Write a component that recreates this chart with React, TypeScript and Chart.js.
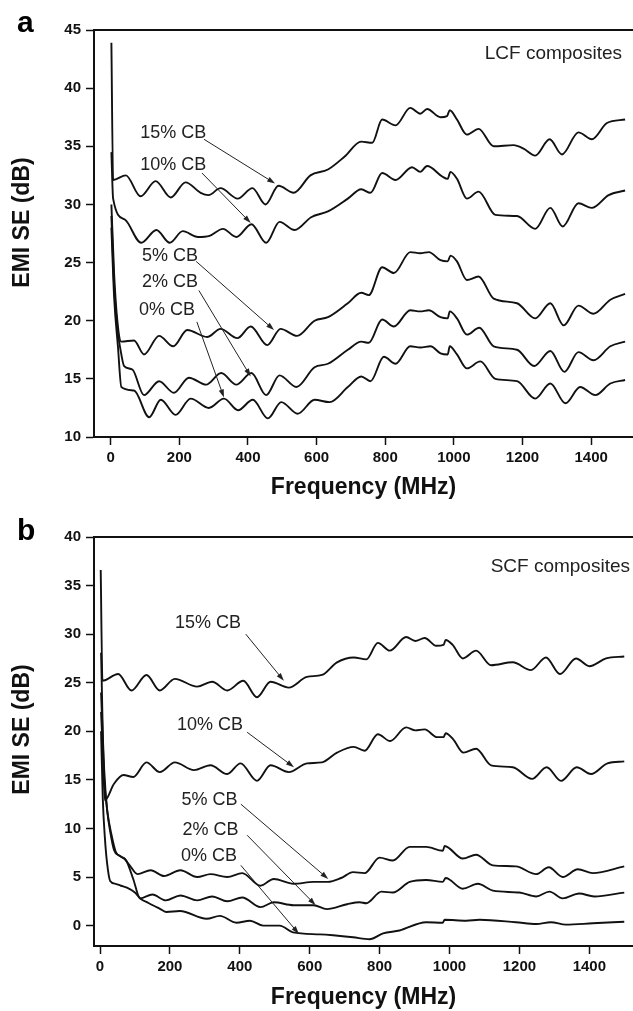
import React, { useEffect, useRef } from 'react';
import { Chart, registerables } from 'chart.js';

Chart.register(...registerables);

const FONT = '"Liberation Sans", Arial, Helvetica, sans-serif';

// ---------- Panel a : LCF composites ----------
const a15Freq = [2, 7, 44, 87, 131, 175, 218, 262, 285, 320, 370, 413, 451, 489, 533, 582, 633, 681, 730, 762, 791, 830, 873, 902, 922, 961, 980, 988, 1009, 1038, 1072, 1116, 1174, 1203, 1237, 1279, 1315, 1363, 1402, 1446, 1499];
const a15SE = [43.9, 32.1, 32.5, 30.7, 32.0, 30.6, 31.9, 31.0, 30.8, 31.4, 30.5, 31.4, 30.0, 31.6, 31.0, 32.5, 33.0, 34.1, 35.4, 35.3, 37.3, 36.8, 38.3, 37.8, 38.2, 37.5, 37.6, 38.1, 37.3, 36.0, 36.5, 35.0, 35.1, 34.8, 34.2, 35.6, 34.3, 36.2, 35.6, 37.0, 37.3];

const a10Freq = [2, 7, 41, 89, 133, 172, 210, 254, 288, 327, 366, 410, 453, 492, 536, 584, 633, 691, 730, 757, 791, 830, 878, 902, 922, 966, 982, 990, 1009, 1038, 1072, 1121, 1184, 1237, 1281, 1317, 1363, 1402, 1451, 1499];
const a10SE = [34.5, 30.5, 28.7, 26.7, 27.8, 26.7, 27.7, 27.2, 27.3, 27.9, 27.2, 28.3, 26.7, 28.5, 27.8, 28.9, 29.4, 30.5, 31.3, 31.0, 32.7, 32.1, 33.2, 32.8, 33.3, 32.4, 32.2, 32.8, 32.2, 30.5, 31.1, 29.1, 29.0, 27.9, 29.7, 28.1, 30.1, 29.7, 30.8, 31.2];

const a5Freq = [2, 10, 20, 31, 68, 97, 141, 182, 223, 281, 320, 369, 408, 456, 495, 543, 594, 633, 691, 730, 752, 791, 825, 873, 902, 927, 961, 982, 990, 1009, 1038, 1072, 1116, 1184, 1237, 1281, 1320, 1363, 1407, 1456, 1499];
const a5SE = [30.0, 24.0, 19.8, 18.2, 18.3, 17.1, 18.7, 17.8, 19.2, 18.6, 19.3, 18.5, 19.5, 17.9, 19.3, 18.7, 20.0, 20.3, 21.5, 22.4, 22.2, 24.6, 24.1, 25.9, 25.8, 25.9, 25.2, 25.1, 25.6, 25.1, 23.5, 23.8, 21.9, 21.5, 20.2, 21.5, 19.6, 21.3, 20.6, 21.8, 22.3];

const a2Freq = [2, 10, 20, 28, 39, 63, 97, 141, 184, 228, 278, 322, 366, 410, 453, 492, 541, 594, 633, 691, 730, 752, 791, 825, 873, 902, 927, 961, 982, 988, 1009, 1038, 1074, 1116, 1184, 1234, 1281, 1322, 1363, 1407, 1456, 1499];
const a2SE = [29.0, 23.0, 19.2, 17.6, 16.1, 15.8, 13.6, 14.8, 13.8, 15.1, 14.5, 15.5, 14.5, 15.5, 13.6, 15.3, 14.3, 16.0, 16.3, 17.5, 18.2, 18.1, 20.1, 19.5, 20.9, 20.8, 20.9, 20.3, 20.2, 20.8, 20.2, 18.8, 19.4, 17.8, 17.5, 16.1, 17.4, 15.6, 17.3, 16.6, 17.8, 18.2];

const a0Freq = [2, 10, 21, 31, 68, 112, 146, 189, 233, 286, 330, 371, 414, 458, 497, 545, 594, 638, 691, 730, 757, 796, 830, 873, 902, 932, 961, 982, 988, 1009, 1038, 1077, 1121, 1184, 1237, 1281, 1325, 1368, 1412, 1456, 1499];
const a0SE = [28.0, 22.0, 17.8, 14.3, 14.0, 11.7, 13.2, 11.9, 13.3, 12.5, 13.3, 12.3, 13.2, 11.6, 13.0, 12.0, 13.2, 13.0, 14.3, 15.2, 14.8, 16.9, 16.3, 17.8, 17.7, 17.8, 17.2, 17.1, 17.8, 17.1, 15.9, 16.5, 15.0, 14.8, 13.3, 14.6, 12.9, 14.3, 13.6, 14.6, 14.9];

// ---------- Panel b : SCF composites ----------
const b15Freq = [2, 7, 52, 90, 133, 171, 214, 278, 321, 364, 410, 449, 488, 540, 592, 635, 678, 726, 762, 795, 829, 876, 902, 929, 962, 983, 989, 1009, 1038, 1076, 1119, 1181, 1233, 1276, 1316, 1362, 1400, 1448, 1500];
const b15SE = [36.6, 25.2, 25.9, 24.2, 25.8, 24.2, 25.4, 24.6, 25.1, 24.2, 25.2, 23.5, 25.1, 24.5, 25.6, 25.8, 27.1, 27.6, 27.4, 29.1, 28.3, 29.7, 29.3, 29.6, 28.8, 28.9, 29.4, 28.9, 27.5, 28.3, 26.8, 27.1, 26.3, 27.6, 25.9, 27.5, 26.7, 27.5, 27.7];

const b10Freq = [3, 14, 40, 67, 95, 133, 171, 214, 269, 316, 364, 402, 449, 488, 540, 592, 635, 678, 726, 757, 795, 830, 876, 902, 929, 964, 983, 989, 1010, 1040, 1076, 1119, 1181, 1236, 1278, 1319, 1364, 1405, 1452, 1500];
const b10SE = [28.1, 12.9, 14.6, 15.5, 15.3, 16.8, 15.8, 16.8, 16.0, 16.5, 15.6, 16.7, 14.9, 16.5, 15.8, 16.7, 16.8, 17.8, 18.4, 18.0, 19.7, 19.0, 20.4, 20.1, 20.2, 19.4, 19.4, 19.8, 19.2, 17.8, 18.2, 16.5, 16.3, 15.1, 16.3, 14.9, 16.3, 15.6, 16.7, 16.9];

const b5Freq = [3, 12, 20, 30, 40, 55, 69, 85, 107, 145, 183, 230, 278, 316, 364, 407, 459, 497, 554, 611, 652, 690, 724, 757, 800, 838, 886, 933, 981, 986, 1038, 1076, 1124, 1190, 1248, 1284, 1324, 1367, 1410, 1500];
const b5SE = [24.0, 16.0, 12.0, 9.5, 7.8, 7.2, 6.9, 6.2, 5.3, 5.7, 5.1, 5.7, 5.0, 5.3, 5.0, 5.4, 4.1, 4.8, 4.3, 4.5, 4.5, 4.9, 5.5, 5.4, 7.0, 6.7, 8.1, 8.1, 7.7, 8.2, 6.9, 7.3, 6.2, 6.1, 5.3, 6.0, 5.0, 5.8, 5.4, 6.1];

const b2Freq = [3, 12, 22, 32, 45, 60, 75, 95, 115, 150, 188, 230, 278, 321, 364, 407, 459, 497, 554, 611, 649, 707, 743, 762, 805, 838, 886, 933, 981, 989, 1038, 1081, 1124, 1200, 1248, 1286, 1324, 1371, 1414, 1500];
const b2SE = [22.0, 15.0, 11.5, 9.5, 7.6, 7.1, 6.7, 4.8, 2.8, 3.2, 2.6, 3.1, 2.6, 3.0, 2.5, 2.9, 1.9, 2.4, 2.1, 2.1, 1.7, 2.2, 2.4, 2.3, 3.5, 3.4, 4.5, 4.7, 4.5, 4.9, 3.8, 4.3, 3.6, 3.4, 3.0, 3.5, 2.8, 3.3, 3.0, 3.4];

const b0Freq = [3, 8, 14, 20, 29, 45, 60, 77, 100, 115, 140, 173, 190, 229, 305, 343, 390, 429, 467, 514, 552, 629, 667, 724, 771, 810, 857, 933, 981, 986, 1048, 1086, 1190, 1248, 1290, 1333, 1410, 1500];
const b0SE = [20.0, 13.0, 9.0, 6.5, 4.6, 4.3, 4.1, 3.9, 3.4, 2.8, 2.3, 1.7, 1.4, 1.5, 0.7, 1.0, 0.3, 0.5, 0.0, 0.0, -0.7, -0.9, -1.0, -1.2, -1.4, -0.8, -0.5, 0.35, 0.3, 0.6, 0.5, 0.6, 0.35, 0.17, 0.35, 0.1, 0.24, 0.4];

// ---------- Ticks & labels ----------
const xTickValues = [0, 200, 400, 600, 800, 1000, 1200, 1400];
const yTicksA = [10, 15, 20, 25, 30, 35, 40, 45];
const yTicksB = [0, 5, 10, 15, 20, 25, 30, 35, 40];
const seriesLabels = ['15% CB', '10% CB', '5% CB', '2% CB', '0% CB'];

// annotation anchors in data coordinates [freq, dB]
const annTextA = [[182, 36.1], [182, 33.4], [173, 25.6], [173, 23.3], [164, 20.9]];
const annFromA = [[272, 35.6], [266, 32.7], [249, 25.1], [257, 22.6], [251, 19.9]];
const annToA = [[479, 31.8], [408, 28.4], [476, 19.2], [408, 15.2], [330, 13.4]];
const annTextB = [[309, 31.1], [315, 20.6], [313, 12.9], [316, 9.8], [312, 7.2]];
const annFromB = [[417, 30.0], [421, 19.9], [403, 12.5], [421, 9.3], [403, 6.2]];
const annToB = [[526, 25.2], [555, 16.3], [653, 4.8], [617, 2.1], [569, -0.85]];

const pts = (f: number[], v: number[]) => f.map((x, i) => ({ x, y: v[i] }));

function drawArrow(ctx: CanvasRenderingContext2D, x0: number, y0: number, x1: number, y1: number) {
  const ang = Math.atan2(y1 - y0, x1 - x0);
  const len = 8, hw = 2.6;
  ctx.beginPath();
  ctx.moveTo(x0, y0);
  ctx.lineTo(x1 - Math.cos(ang) * len * 0.8, y1 - Math.sin(ang) * len * 0.8);
  ctx.strokeStyle = '#222';
  ctx.lineWidth = 1;
  ctx.stroke();
  ctx.beginPath();
  ctx.moveTo(x1, y1);
  ctx.lineTo(x1 - Math.cos(ang) * len + Math.sin(ang) * hw, y1 - Math.sin(ang) * len - Math.cos(ang) * hw);
  ctx.lineTo(x1 - Math.cos(ang) * len - Math.sin(ang) * hw, y1 - Math.sin(ang) * len + Math.cos(ang) * hw);
  ctx.closePath();
  ctx.fillStyle = '#222';
  ctx.fill();
}

interface PanelSpec {
  series: { f: number[]; v: number[] }[];
  xMin: number; xMax: number; yMin: number; yMax: number;
  yTicks: number[];
  padTop: number; xAxisH: number; xTitlePad: number;
  annText: number[][]; annFrom: number[][]; annTo: number[][];
  composite: string; compDx: number; compDy: number;
  letter: string; letterY: number; yTitleDy: number;
  height: number;
}

function decorPlugin(p: PanelSpec) {
  return {
    id: 'decor' + p.letter,
    afterDatasetsDraw(chart: any) {
      const { ctx, chartArea } = chart;
      const x = chart.scales.x, y = chart.scales.y;
      ctx.save();
      ctx.font = `18px ${FONT}`;
      ctx.textAlign = 'center';
      ctx.textBaseline = 'middle';
      seriesLabels.forEach((t, i) => {
        ctx.fillStyle = '#222';
        ctx.fillText(t, x.getPixelForValue(p.annText[i][0]), y.getPixelForValue(p.annText[i][1]));
        drawArrow(ctx,
          x.getPixelForValue(p.annFrom[i][0]), y.getPixelForValue(p.annFrom[i][1]),
          x.getPixelForValue(p.annTo[i][0]), y.getPixelForValue(p.annTo[i][1]));
      });
      ctx.font = `19px ${FONT}`;
      ctx.fillStyle = '#222';
      ctx.textAlign = 'right';
      ctx.fillText(p.composite, chartArea.right - p.compDx, chartArea.top + p.compDy);
      ctx.font = `bold 30px ${FONT}`;
      ctx.fillStyle = '#000';
      ctx.textAlign = 'left';
      ctx.textBaseline = 'alphabetic';
      ctx.fillText(p.letter, 17, p.letterY);
      ctx.translate(23, (chartArea.top + chartArea.bottom) / 2 + p.yTitleDy);
      ctx.rotate(-Math.PI / 2);
      ctx.font = `bold 23px ${FONT}`;
      ctx.textAlign = 'center';
      ctx.textBaseline = 'middle';
      ctx.fillStyle = '#111';
      ctx.fillText('EMI SE (dB)', 0, 0);
      ctx.restore();
    },
  };
}

function Panel({ spec }: { spec: PanelSpec }) {
  const ref = useRef<HTMLCanvasElement | null>(null);
  useEffect(() => {
    if (!ref.current) return;
    const tickFont = { family: FONT, size: 15, weight: 'bold' as const };
    const grid = { drawOnChartArea: false, drawTicks: true, tickLength: 8, tickWidth: 1.5, tickColor: '#111' };
    const border = { display: true, color: '#111', width: 2 };
    const chart = new Chart(ref.current, {
      type: 'line',
      data: {
        datasets: spec.series.map((s, i) => ({
          label: seriesLabels[i],
          data: pts(s.f, s.v),
          borderColor: '#111',
          borderWidth: 1.9,
          pointRadius: 0,
          fill: false,
          cubicInterpolationMode: 'monotone' as const,
        })),
      },
      options: {
        responsive: false,
        animation: false,
        devicePixelRatio: 1,
        events: [],
        layout: { padding: { top: spec.padTop, left: 0, right: 0, bottom: 0 } },
        plugins: { legend: { display: false }, tooltip: { enabled: false } },
        scales: {
          x: {
            type: 'linear', position: 'bottom', min: spec.xMin, max: spec.xMax,
            afterBuildTicks: (s: any) => { s.ticks = xTickValues.map((v) => ({ value: v })); },
            afterFit: (s: any) => { s.height = spec.xAxisH; },
            ticks: { font: tickFont, color: '#111', padding: 4, maxRotation: 0, autoSkip: false, callback: (v: any) => String(v) },
            grid, border,
            title: { display: true, text: 'Frequency (MHz)', color: '#111', font: { family: FONT, size: 23, weight: 'bold' }, padding: { top: 0, bottom: spec.xTitlePad } },
          },
          xTop: {
            type: 'linear', position: 'top', min: spec.xMin, max: spec.xMax,
            afterFit: (s: any) => { s.height = 0; },
            ticks: { display: false },
            grid: { drawOnChartArea: false, drawTicks: false },
            border,
          },
          y: {
            type: 'linear', position: 'left', min: spec.yMin, max: spec.yMax,
            afterBuildTicks: (s: any) => { s.ticks = spec.yTicks.map((v) => ({ value: v })); },
            afterFit: (s: any) => { s.width = 94; },
            ticks: { font: tickFont, color: '#111', padding: 5, callback: (v: any) => String(v) },
            grid, border,
          },
        },
      },
      plugins: [decorPlugin(spec)],
    } as any);
    return () => chart.destroy();
  }, [spec]);
  return <canvas ref={ref} width={633} height={spec.height} style={{ display: 'block', width: 633, height: spec.height }} />;
}

const specA: PanelSpec = {
  series: [
    { f: a15Freq, v: a15SE }, { f: a10Freq, v: a10SE }, { f: a5Freq, v: a5SE },
    { f: a2Freq, v: a2SE }, { f: a0Freq, v: a0SE },
  ],
  xMin: -48.7, xMax: 1522, yMin: 10, yMax: 45, yTicks: yTicksA,
  padTop: 30, xAxisH: 68, xTitlePad: 4,
  annText: annTextA, annFrom: annFromA, annTo: annToA,
  composite: 'LCF composites', compDx: 11, compDy: 24,
  letter: 'a', letterY: 32, yTitleDy: -11, height: 505,
};

const specB: PanelSpec = {
  series: [
    { f: b15Freq, v: b15SE }, { f: b10Freq, v: b10SE }, { f: b5Freq, v: b5SE },
    { f: b2Freq, v: b2SE }, { f: b0Freq, v: b0SE },
  ],
  xMin: -17.2, xMax: 1525, yMin: -2.1, yMax: 40, yTicks: yTicksB,
  padTop: 32, xAxisH: 65, xTitlePad: 0,
  annText: annTextB, annFrom: annFromB, annTo: annToB,
  composite: 'SCF composites', compDx: 3, compDy: 30,
  letter: 'b', letterY: 35, yTitleDy: -12, height: 506,
};

export default function App() {
  return (
    <div style={{ position: 'absolute', left: 0, top: 0, width: 633, height: 1011, background: '#fff' }}>
      <Panel spec={specA} />
      <Panel spec={specB} />
    </div>
  );
}
